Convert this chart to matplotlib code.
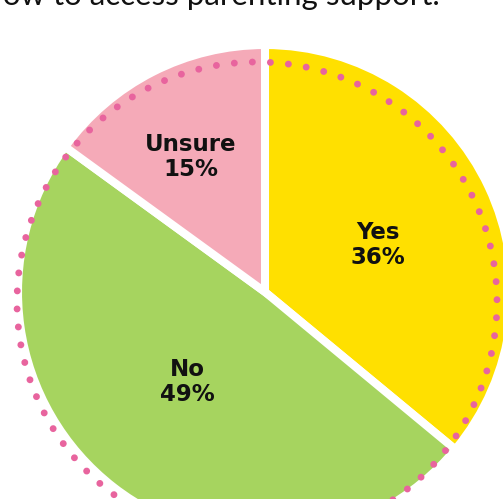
import numpy as np
import matplotlib.pyplot as plt
from matplotlib.patches import Circle

# 数据
labels = ['Yes', 'No', 'Unsure']
values = [36, 49, 15]
colors = ['#FFE000', '#A6D45F', '#F5AAB8']
title = 'How to access parenting support.'

W, H = 503, 499
fig = plt.figure(figsize=(W / 100, H / 100), dpi=100)
ax = fig.add_axes([0, 0, 1, 1])

# 饼图 (像素坐标, y 向上)
cx, cy, r = 265, H - 292, 247
wedges, _ = ax.pie(values, colors=colors, startangle=90, counterclock=False,
                   center=(cx, cy), radius=r, frame=True,
                   wedgeprops=dict(edgecolor='white', linewidth=5.8))
ax.set_xlim(0, W)
ax.set_ylim(0, H)
ax.set_aspect('equal')
ax.axis('off')

# 虚线圆
dots = Circle((257, H - 302), 240, fill=False, edgecolor='#E8649E',
              linewidth=5.0, linestyle=(0, (0.001, 2.6)), capstyle='round',
              zorder=5)
ax.add_patch(dots)

# 标签
pos = {'Yes': (378, 245), 'No': (187, 382), 'Unsure': (191, 157)}
for lab, v in zip(labels, values):
    x, y = pos[lab]
    ax.text(x, H - y, f'{lab}\n{v}%', ha='center', va='center',
            fontsize=16.5, fontweight='bold', family='DejaVu Sans',
            linespacing=1.15, color='#111111', zorder=6)

# 标题 (顶部被截断)
ax.text(440, H - 5, title, ha='right', va='baseline', fontsize=22.5,
        family='Lato', color='#111111')

fig.savefig('out.png', dpi=100)
